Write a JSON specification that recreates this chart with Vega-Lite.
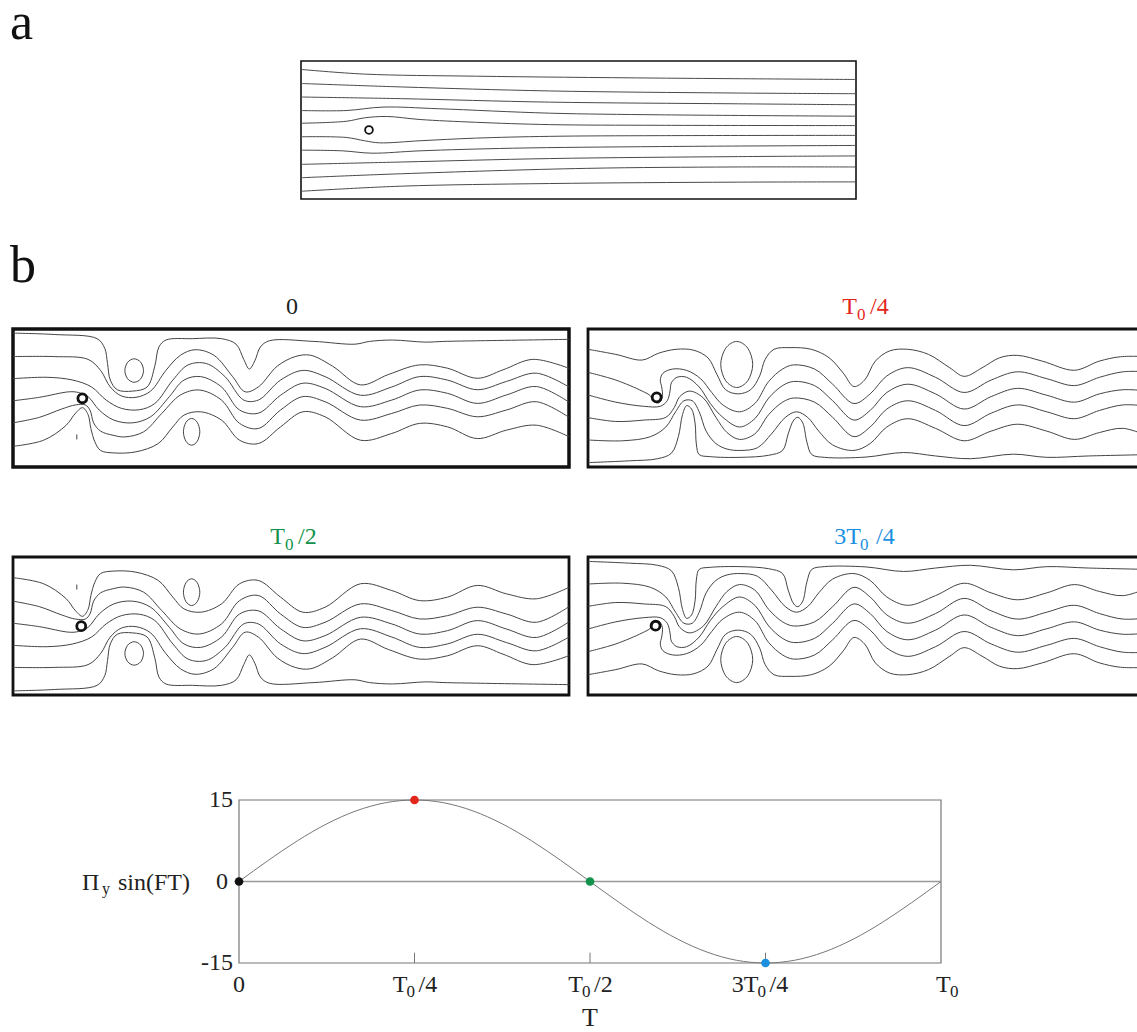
{
"$schema":"https://vega.github.io/schema/vega-lite/v6.json",
"width":1137,"height":1032,
"autosize":{"type":"none"},
"padding":0,
"background":"white",
"config":{"view":{"stroke":null},"axis":{"disable":true},"legend":{"disable":true},"text":{"font":"Liberation Serif","fontSize":24,"color":"#222"}},
"resolve":{"scale":{"x":"independent","y":"independent"}},
"datasets":{
"pa":[
{"l":1,"x":0,"y":9.39},{"l":1,"x":4.58,"y":9.05},{"l":1,"x":12.57,"y":8.9},{"l":1,"x":25.89,"y":8.76},{"l":1,"x":40,"y":8.66},
{"l":2,"x":0,"y":8.37},{"l":2,"x":7.24,"y":8.12},{"l":2,"x":17.9,"y":7.83},{"l":2,"x":31.21,"y":7.68},{"l":2,"x":40,"y":7.63},
{"l":3,"x":0,"y":7.39},{"l":3,"x":7.24,"y":7.27},{"l":3,"x":17.9,"y":7.02},{"l":3,"x":31.21,"y":6.9},{"l":3,"x":40,"y":6.83},
{"l":4,"x":0,"y":6.41},{"l":4,"x":3.25,"y":6.41},{"l":4,"x":5.91,"y":6.66},{"l":4,"x":9.91,"y":6.54},{"l":4,"x":17.9,"y":6.22},{"l":4,"x":25.89,"y":6.1},{"l":4,"x":40,"y":6.0},
{"l":5,"x":0,"y":5.49},{"l":5,"x":3.25,"y":5.63},{"l":5,"x":4.58,"y":5.88},{"l":5,"x":6.18,"y":5.98},{"l":5,"x":8.58,"y":5.76},{"l":5,"x":12.57,"y":5.56},{"l":5,"x":17.9,"y":5.39},{"l":5,"x":25.89,"y":5.34},{"l":5,"x":40,"y":5.32},
{"l":6,"x":0,"y":4.51},{"l":6,"x":3.25,"y":4.46},{"l":6,"x":4.58,"y":4.22},{"l":6,"x":5.65,"y":4.07},{"l":6,"x":8.58,"y":4.22},{"l":6,"x":12.57,"y":4.41},{"l":6,"x":17.9,"y":4.54},{"l":6,"x":25.89,"y":4.59},{"l":6,"x":40,"y":4.61},
{"l":7,"x":0,"y":3.54},{"l":7,"x":2.98,"y":3.49},{"l":7,"x":5.11,"y":3.32},{"l":7,"x":8.58,"y":3.49},{"l":7,"x":15.23,"y":3.68},{"l":7,"x":25.89,"y":3.8},{"l":7,"x":40,"y":3.88},
{"l":8,"x":0,"y":2.51},{"l":8,"x":7.24,"y":2.68},{"l":8,"x":17.9,"y":2.93},{"l":8,"x":31.21,"y":3.07},{"l":8,"x":40,"y":3.12},
{"l":9,"x":0,"y":1.54},{"l":9,"x":7.24,"y":1.83},{"l":9,"x":20.56,"y":2.22},{"l":9,"x":31.21,"y":2.32},{"l":9,"x":40,"y":2.32},
{"l":10,"x":0,"y":0.56},{"l":10,"x":7.24,"y":0.93},{"l":10,"x":17.9,"y":1.12},{"l":10,"x":31.21,"y":1.22},{"l":10,"x":40,"y":1.24}
],
"b0":[
{"l":1,"x":0,"y":9.7},{"l":1,"x":3.0,"y":9.6},{"l":1,"x":6.05,"y":9.3},{"l":1,"x":6.6,"y":8.6},{"l":1,"x":6.8,"y":7.5},{"l":1,"x":7.0,"y":6.3},{"l":1,"x":7.5,"y":5.6},{"l":1,"x":8.6,"y":5.5},{"l":1,"x":9.65,"y":5.8},{"l":1,"x":10.2,"y":7.3},{"l":1,"x":10.5,"y":8.7},{"l":1,"x":11.0,"y":9.2},{"l":1,"x":12.9,"y":9.3},{"l":1,"x":15.0,"y":9.3},{"l":1,"x":16.05,"y":8.9},{"l":1,"x":16.6,"y":7.8},{"l":1,"x":17.0,"y":7.1},{"l":1,"x":17.4,"y":7.7},{"l":1,"x":17.8,"y":8.7},{"l":1,"x":18.45,"y":9.15},{"l":1,"x":21.65,"y":9.1},{"l":1,"x":24.6,"y":8.9},{"l":1,"x":25.65,"y":9.1},{"l":1,"x":27.3,"y":9.2},{"l":1,"x":29.65,"y":9.05},{"l":1,"x":31.0,"y":9.1},{"l":1,"x":33.65,"y":9.15},{"l":1,"x":40,"y":9.25},
{"l":2,"x":0,"y":8.0},{"l":2,"x":3.0,"y":8.0},{"l":2,"x":5.4,"y":7.8},{"l":2,"x":6.3,"y":7.0},{"l":2,"x":7.0,"y":5.8},{"l":2,"x":7.8,"y":5.15},{"l":2,"x":8.85,"y":5.05},{"l":2,"x":9.9,"y":5.5},{"l":2,"x":11.0,"y":7.0},{"l":2,"x":12.05,"y":8.1},{"l":2,"x":13.1,"y":8.5},{"l":2,"x":14.45,"y":8.1},{"l":2,"x":15.8,"y":6.55},{"l":2,"x":16.7,"y":5.45},{"l":2,"x":17.65,"y":5.8},{"l":2,"x":19.0,"y":7.3},{"l":2,"x":20.3,"y":8.0},{"l":2,"x":21.4,"y":8.1},{"l":2,"x":23.0,"y":7.3},{"l":2,"x":25.0,"y":5.95},{"l":2,"x":27.0,"y":6.7},{"l":2,"x":29.25,"y":7.4},{"l":2,"x":31.25,"y":7.16},{"l":2,"x":33.4,"y":6.43},{"l":2,"x":35.25,"y":7.04},{"l":2,"x":37.4,"y":7.8},{"l":2,"x":40,"y":7.15},
{"l":3,"x":0,"y":6.4},{"l":3,"x":2.45,"y":6.5},{"l":3,"x":4.3,"y":6.3},{"l":3,"x":5.65,"y":5.8},{"l":3,"x":6.7,"y":4.85},{"l":3,"x":7.8,"y":4.25},{"l":3,"x":9.1,"y":4.15},{"l":3,"x":10.2,"y":4.6},{"l":3,"x":11.5,"y":6.3},{"l":3,"x":12.6,"y":7.4},{"l":3,"x":13.9,"y":7.5},{"l":3,"x":15.25,"y":6.55},{"l":3,"x":16.6,"y":4.85},{"l":3,"x":17.65,"y":4.85},{"l":3,"x":19.25,"y":6.3},{"l":3,"x":20.85,"y":7.0},{"l":3,"x":22.45,"y":6.55},{"l":3,"x":25.0,"y":5.2},{"l":3,"x":27.25,"y":5.8},{"l":3,"x":29.25,"y":6.55},{"l":3,"x":31.25,"y":6.3},{"l":3,"x":33.4,"y":5.6},{"l":3,"x":35.5,"y":6.2},{"l":3,"x":37.65,"y":6.8},{"l":3,"x":40,"y":5.8},
{"l":4,"x":0,"y":4.8},{"l":4,"x":1.9,"y":5.05},{"l":4,"x":4.05,"y":5.45},{"l":4,"x":4.7,"y":5.4},{"l":4,"x":5.4,"y":5.1},{"l":4,"x":6.2,"y":4.13},{"l":4,"x":7.25,"y":3.4},{"l":4,"x":8.6,"y":3.2},{"l":4,"x":9.9,"y":3.64},{"l":4,"x":11.25,"y":5.1},{"l":4,"x":12.3,"y":6.3},{"l":4,"x":13.5,"y":6.55},{"l":4,"x":15.0,"y":5.8},{"l":4,"x":16.3,"y":4.13},{"l":4,"x":17.65,"y":3.9},{"l":4,"x":19.25,"y":5.2},{"l":4,"x":20.85,"y":6.07},{"l":4,"x":22.45,"y":5.7},{"l":4,"x":25.0,"y":4.37},{"l":4,"x":27.25,"y":4.85},{"l":4,"x":29.25,"y":5.58},{"l":4,"x":31.25,"y":5.34},{"l":4,"x":33.4,"y":4.61},{"l":4,"x":35.5,"y":5.22},{"l":4,"x":37.65,"y":5.83},{"l":4,"x":40,"y":4.7},
{"l":5,"x":0,"y":3.2},{"l":5,"x":1.9,"y":3.6},{"l":5,"x":3.5,"y":4.2},{"l":5,"x":4.5,"y":4.5},{"l":5,"x":5.2,"y":4.5},{"l":5,"x":5.55,"y":4.1},{"l":5,"x":5.8,"y":3.2},{"l":5,"x":6.3,"y":2.6},{"l":5,"x":7.2,"y":2.3},{"l":5,"x":8.05,"y":2.18},{"l":5,"x":9.4,"y":2.55},{"l":5,"x":10.7,"y":3.88},{"l":5,"x":12.05,"y":5.22},{"l":5,"x":13.4,"y":5.58},{"l":5,"x":15.0,"y":4.85},{"l":5,"x":16.3,"y":3.16},{"l":5,"x":17.65,"y":2.79},{"l":5,"x":19.25,"y":4.13},{"l":5,"x":20.85,"y":5.1},{"l":5,"x":22.45,"y":4.73},{"l":5,"x":25.0,"y":3.4},{"l":5,"x":27.25,"y":3.88},{"l":5,"x":29.25,"y":4.49},{"l":5,"x":31.25,"y":4.25},{"l":5,"x":33.4,"y":3.64},{"l":5,"x":35.5,"y":4.13},{"l":5,"x":37.65,"y":4.73},{"l":5,"x":40,"y":3.6},
{"l":6,"x":0,"y":1.5},{"l":6,"x":2.2,"y":1.94},{"l":6,"x":3.8,"y":3.0},{"l":6,"x":4.5,"y":3.9},{"l":6,"x":5.0,"y":4.3},{"l":6,"x":5.4,"y":3.8},{"l":6,"x":5.6,"y":2.8},{"l":6,"x":5.9,"y":1.8},{"l":6,"x":6.3,"y":1.2},{"l":6,"x":7.25,"y":1.02},{"l":6,"x":8.85,"y":1.1},{"l":6,"x":10.45,"y":1.7},{"l":6,"x":11.5,"y":2.91},{"l":6,"x":12.3,"y":3.76},{"l":6,"x":13.5,"y":4.0},{"l":6,"x":15.0,"y":3.4},{"l":6,"x":16.3,"y":1.94},{"l":6,"x":17.65,"y":1.7},{"l":6,"x":19.25,"y":2.91},{"l":6,"x":20.85,"y":4.0},{"l":6,"x":22.45,"y":3.64},{"l":6,"x":25.0,"y":1.94},{"l":6,"x":27.25,"y":2.43},{"l":6,"x":29.25,"y":3.16},{"l":6,"x":31.25,"y":2.91},{"l":6,"x":33.4,"y":2.06},{"l":6,"x":35.5,"y":2.67},{"l":6,"x":37.65,"y":3.03},{"l":6,"x":40,"y":2.2},
{"l":7,"x":4.59,"y":2.36},{"l":7,"x":4.59,"y":2.0}
],
"b0e":[
{"e":1,"x":8.72,"y":7.84},{"e":1,"x":9.19,"y":7.59},{"e":1,"x":9.39,"y":6.99},{"e":1,"x":9.19,"y":6.39},{"e":1,"x":8.72,"y":6.14},{"e":1,"x":8.25,"y":6.39},{"e":1,"x":8.05,"y":6.99},{"e":1,"x":8.25,"y":7.59},
{"e":2,"x":12.85,"y":3.52},{"e":2,"x":13.26,"y":3.23},{"e":2,"x":13.44,"y":2.55},{"e":2,"x":13.26,"y":1.87},{"e":2,"x":12.85,"y":1.58},{"e":2,"x":12.44,"y":1.87},{"e":2,"x":12.26,"y":2.55},{"e":2,"x":12.44,"y":3.23}
],
"b1":[
{"l":1,"x":0,"y":8.53},{"l":1,"x":2.0,"y":8.16},{"l":1,"x":3.9,"y":7.75},{"l":1,"x":5.06,"y":8.24},{"l":1,"x":6.34,"y":8.53},{"l":1,"x":7.62,"y":8.46},{"l":1,"x":8.64,"y":7.9},{"l":1,"x":9.28,"y":6.7},{"l":1,"x":9.9,"y":5.6},{"l":1,"x":10.8,"y":5.3},{"l":1,"x":11.7,"y":5.6},{"l":1,"x":12.35,"y":6.6},{"l":1,"x":12.74,"y":7.79},{"l":1,"x":13.38,"y":8.53},{"l":1,"x":14.53,"y":8.65},{"l":1,"x":16.06,"y":8.53},{"l":1,"x":17.34,"y":7.92},{"l":1,"x":18.36,"y":6.81},{"l":1,"x":19.13,"y":5.83},{"l":1,"x":19.9,"y":6.3},{"l":1,"x":20.67,"y":7.67},{"l":1,"x":21.69,"y":8.41},{"l":1,"x":23.0,"y":8.53},{"l":1,"x":24.5,"y":8.16},{"l":1,"x":26.04,"y":7.18},{"l":1,"x":27.06,"y":6.57},{"l":1,"x":28.34,"y":7.18},{"l":1,"x":29.62,"y":7.92},{"l":1,"x":30.9,"y":8.09},{"l":1,"x":32.69,"y":7.67},{"l":1,"x":34.99,"y":7.01},{"l":1,"x":36.78,"y":7.67},{"l":1,"x":38.31,"y":7.99},{"l":1,"x":40.4,"y":8.0},
{"l":2,"x":0,"y":6.86},{"l":2,"x":2.0,"y":6.3},{"l":2,"x":3.9,"y":5.5},{"l":2,"x":4.5,"y":5.15},{"l":2,"x":4.75,"y":4.75},{"l":2,"x":5.1,"y":4.65},{"l":2,"x":5.35,"y":5.1},{"l":2,"x":5.3,"y":5.8},{"l":2,"x":5.2,"y":6.3},{"l":2,"x":5.4,"y":6.8},{"l":2,"x":6.1,"y":7.1},{"l":2,"x":7.1,"y":7.0},{"l":2,"x":8.1,"y":6.4},{"l":2,"x":8.9,"y":5.4},{"l":2,"x":9.7,"y":4.5},{"l":2,"x":10.9,"y":4.0},{"l":2,"x":12.0,"y":4.6},{"l":2,"x":13.0,"y":6.2},{"l":2,"x":14.0,"y":7.1},{"l":2,"x":14.8,"y":7.4},{"l":2,"x":16.3,"y":7.1},{"l":2,"x":17.6,"y":6.0},{"l":2,"x":19.13,"y":4.6},{"l":2,"x":20.3,"y":5.3},{"l":2,"x":21.5,"y":6.6},{"l":2,"x":23.0,"y":7.2},{"l":2,"x":25.0,"y":6.5},{"l":2,"x":27.06,"y":5.4},{"l":2,"x":29.0,"y":6.3},{"l":2,"x":30.9,"y":6.9},{"l":2,"x":33.0,"y":6.4},{"l":2,"x":35.0,"y":5.9},{"l":2,"x":36.8,"y":6.5},{"l":2,"x":38.5,"y":6.9},{"l":2,"x":40.4,"y":6.9},
{"l":3,"x":0,"y":5.22},{"l":3,"x":2.0,"y":4.7},{"l":3,"x":4.0,"y":4.4},{"l":3,"x":5.2,"y":4.4},{"l":3,"x":5.7,"y":4.8},{"l":3,"x":5.9,"y":5.5},{"l":3,"x":6.0,"y":6.1},{"l":3,"x":6.4,"y":6.5},{"l":3,"x":7.1,"y":6.5},{"l":3,"x":8.0,"y":5.8},{"l":3,"x":8.8,"y":4.6},{"l":3,"x":9.7,"y":3.6},{"l":3,"x":10.9,"y":2.9},{"l":3,"x":12.0,"y":3.5},{"l":3,"x":13.0,"y":5.0},{"l":3,"x":14.0,"y":5.9},{"l":3,"x":14.8,"y":6.2},{"l":3,"x":16.3,"y":5.9},{"l":3,"x":17.6,"y":4.8},{"l":3,"x":19.13,"y":3.4},{"l":3,"x":20.3,"y":4.1},{"l":3,"x":21.5,"y":5.4},{"l":3,"x":23.0,"y":6.0},{"l":3,"x":25.0,"y":5.3},{"l":3,"x":27.06,"y":4.2},{"l":3,"x":29.0,"y":5.1},{"l":3,"x":30.9,"y":5.7},{"l":3,"x":33.0,"y":5.2},{"l":3,"x":35.0,"y":4.7},{"l":3,"x":36.8,"y":5.3},{"l":3,"x":38.5,"y":5.6},{"l":3,"x":40.4,"y":5.5},
{"l":4,"x":0,"y":3.58},{"l":4,"x":2.0,"y":3.3},{"l":4,"x":4.0,"y":3.4},{"l":4,"x":5.6,"y":3.6},{"l":4,"x":6.2,"y":4.3},{"l":4,"x":6.6,"y":5.1},{"l":4,"x":7.3,"y":5.5},{"l":4,"x":8.3,"y":5.0},{"l":4,"x":9.2,"y":3.6},{"l":4,"x":10.0,"y":2.5},{"l":4,"x":10.9,"y":2.0},{"l":4,"x":12.0,"y":2.4},{"l":4,"x":13.0,"y":3.8},{"l":4,"x":14.0,"y":4.7},{"l":4,"x":14.8,"y":5.0},{"l":4,"x":16.3,"y":4.7},{"l":4,"x":17.6,"y":3.6},{"l":4,"x":19.13,"y":2.2},{"l":4,"x":20.3,"y":2.9},{"l":4,"x":21.5,"y":4.2},{"l":4,"x":23.0,"y":4.8},{"l":4,"x":25.0,"y":4.1},{"l":4,"x":27.06,"y":3.0},{"l":4,"x":29.0,"y":3.9},{"l":4,"x":30.9,"y":4.5},{"l":4,"x":33.0,"y":4.0},{"l":4,"x":35.0,"y":3.5},{"l":4,"x":36.8,"y":4.1},{"l":4,"x":38.5,"y":4.5},{"l":4,"x":40.4,"y":4.4},
{"l":5,"x":0,"y":1.96},{"l":5,"x":2.5,"y":1.9},{"l":5,"x":4.5,"y":2.2},{"l":5,"x":5.6,"y":2.9},{"l":5,"x":6.3,"y":4.0},{"l":5,"x":6.9,"y":4.8},{"l":5,"x":7.5,"y":4.8},{"l":5,"x":8.0,"y":4.0},{"l":5,"x":8.5,"y":2.6},{"l":5,"x":9.2,"y":1.7},{"l":5,"x":10.0,"y":1.3},{"l":5,"x":11.0,"y":1.2},{"l":5,"x":12.2,"y":1.4},{"l":5,"x":13.2,"y":2.4},{"l":5,"x":14.2,"y":3.6},{"l":5,"x":15.0,"y":4.0},{"l":5,"x":15.8,"y":3.6},{"l":5,"x":16.6,"y":2.6},{"l":5,"x":17.6,"y":1.6},{"l":5,"x":19.13,"y":1.2},{"l":5,"x":20.3,"y":1.7},{"l":5,"x":21.5,"y":2.9},{"l":5,"x":23.0,"y":3.5},{"l":5,"x":25.0,"y":2.8},{"l":5,"x":27.06,"y":1.9},{"l":5,"x":29.0,"y":2.6},{"l":5,"x":30.9,"y":3.1},{"l":5,"x":33.0,"y":2.6},{"l":5,"x":35.0,"y":2.0},{"l":5,"x":36.8,"y":2.5},{"l":5,"x":38.5,"y":2.8},{"l":5,"x":40.4,"y":2.2},
{"l":6,"x":0,"y":0.32},{"l":6,"x":3.0,"y":0.45},{"l":6,"x":5.0,"y":0.6},{"l":6,"x":6.0,"y":1.0},{"l":6,"x":6.5,"y":2.2},{"l":6,"x":6.8,"y":3.8},{"l":6,"x":7.1,"y":4.45},{"l":6,"x":7.45,"y":4.2},{"l":6,"x":7.7,"y":3.2},{"l":6,"x":7.8,"y":1.6},{"l":6,"x":8.0,"y":0.9},{"l":6,"x":8.8,"y":0.75},{"l":6,"x":11.0,"y":0.7},{"l":6,"x":13.0,"y":0.85},{"l":6,"x":14.0,"y":1.2},{"l":6,"x":14.4,"y":2.4},{"l":6,"x":14.8,"y":3.4},{"l":6,"x":15.1,"y":3.6},{"l":6,"x":15.45,"y":3.2},{"l":6,"x":15.75,"y":1.8},{"l":6,"x":16.1,"y":0.9},{"l":6,"x":17.0,"y":0.7},{"l":6,"x":20.0,"y":0.72},{"l":6,"x":22.7,"y":1.05},{"l":6,"x":25.0,"y":0.8},{"l":6,"x":27.5,"y":0.6},{"l":6,"x":30.6,"y":0.93},{"l":6,"x":33.0,"y":0.7},{"l":6,"x":36.0,"y":0.8},{"l":6,"x":40.4,"y":0.9}
],
"b1e":[
{"e":1,"x":10.7,"y":9.1},{"e":1,"x":11.5,"y":8.6},{"e":1,"x":11.85,"y":7.43},{"e":1,"x":11.5,"y":6.26},{"e":1,"x":10.7,"y":5.76},{"e":1,"x":9.9,"y":6.26},{"e":1,"x":9.55,"y":7.43},{"e":1,"x":9.9,"y":8.6}
],
"sine":[
{"t":0,"v":0},{"t":0.0417,"v":3.88},{"t":0.0833,"v":7.5},{"t":0.125,"v":10.61},{"t":0.1667,"v":12.99},{"t":0.2083,"v":14.49},{"t":0.25,"v":15},{"t":0.2917,"v":14.49},{"t":0.3333,"v":12.99},{"t":0.375,"v":10.61},{"t":0.4167,"v":7.5},{"t":0.4583,"v":3.88},{"t":0.5,"v":0},{"t":0.5417,"v":-3.88},{"t":0.5833,"v":-7.5},{"t":0.625,"v":-10.61},{"t":0.6667,"v":-12.99},{"t":0.7083,"v":-14.49},{"t":0.75,"v":-15},{"t":0.7917,"v":-14.49},{"t":0.8333,"v":-12.99},{"t":0.875,"v":-10.61},{"t":0.9167,"v":-7.5},{"t":0.9583,"v":-3.88},{"t":1,"v":0}
],
"pts":[{"t":0,"v":0,"k":"0"},{"t":0.25,"v":15,"k":"T0/4"},{"t":0.5,"v":0,"k":"T0/2"},{"t":0.75,"v":-15,"k":"3T0/4"}],
"xl":[{"t":0.25,"p":"T","s":"/4"},{"t":0.5,"p":"T","s":"/2"},{"t":0.75,"p":"3T","s":"/4"}],
"yl":[{"v":15,"s":"15"},{"v":-15,"s":"-15"}]
},
"layer":[
{"layer":[
 {"data":{"values":[{}]},"mark":{"type":"rect","filled":false,"color":"#111","strokeWidth":1.6},
  "encoding":{"x":{"datum":0,"type":"quantitative","scale":{"domain":[-21.694,60.252],"nice":false,"zero":false}},"x2":{"datum":40},"y":{"datum":0,"type":"quantitative","scale":{"domain":[-60.362,14.42],"nice":false,"zero":false}},"y2":{"datum":10}}},
 {"data":{"name":"pa"},"mark":{"type":"line","interpolate":"catmull-rom","color":"#4a4a4a","strokeWidth":1},
  "encoding":{"x":{"field":"x","type":"quantitative","scale":{"domain":[-21.694,60.252],"nice":false,"zero":false}},"y":{"field":"y","type":"quantitative","scale":{"domain":[-60.362,14.42],"nice":false,"zero":false}},"detail":{"field":"l","type":"nominal"},"order":{"value":null}}},
 {"data":{"values":[{}]},"mark":{"type":"point","shape":"circle","filled":false,"color":"#111","size":60,"strokeWidth":1.8,"opacity":1},
  "encoding":{"x":{"datum":4.9,"type":"quantitative","scale":{"domain":[-21.694,60.252],"nice":false,"zero":false}},"y":{"datum":5.0,"type":"quantitative","scale":{"domain":[-60.362,14.42],"nice":false,"zero":false}}}},
 {"data":{"values":[{}]},"mark":{"type":"text","text":"a","align":"left","baseline":"alphabetic","fontSize":52,"color":"#111"},
  "encoding":{"x":{"datum":-20.97,"type":"quantitative","scale":{"domain":[-21.694,60.252],"nice":false,"zero":false}},"y":{"datum":11.6,"type":"quantitative","scale":{"domain":[-60.362,14.42],"nice":false,"zero":false}}}},
 {"data":{"values":[{}]},"mark":{"type":"text","text":"b","align":"left","baseline":"alphabetic","fontSize":52,"color":"#111"},
  "encoding":{"x":{"datum":-20.97,"type":"quantitative","scale":{"domain":[-21.694,60.252],"nice":false,"zero":false}},"y":{"datum":-6.01,"type":"quantitative","scale":{"domain":[-60.362,14.42],"nice":false,"zero":false}}}}
]},
{"layer":[
 {"data":{"values":[{}]},"mark":{"type":"rect","filled":false,"color":"#111","strokeWidth":3.5},
  "encoding":{"x":{"datum":0,"type":"quantitative","scale":{"domain":[-0.935,80.863],"nice":false,"zero":false}},"x2":{"datum":40},"y":{"datum":0,"type":"quantitative","scale":{"domain":[-40.942,33.841],"nice":false,"zero":false}},"y2":{"datum":10}}},
 {"data":{"name":"b0"},"mark":{"type":"line","interpolate":"catmull-rom","color":"#444","strokeWidth":1},
  "encoding":{"x":{"field":"x","type":"quantitative","scale":{"domain":[-0.935,80.863],"nice":false,"zero":false}},"y":{"field":"y","type":"quantitative","scale":{"domain":[-40.942,33.841],"nice":false,"zero":false}},"detail":{"field":"l","type":"nominal"},"order":{"value":null}}},
 {"data":{"name":"b0e"},"mark":{"type":"line","interpolate":"cardinal-closed","color":"#444","strokeWidth":1},
  "encoding":{"x":{"field":"x","type":"quantitative","scale":{"domain":[-0.935,80.863],"nice":false,"zero":false}},"y":{"field":"y","type":"quantitative","scale":{"domain":[-40.942,33.841],"nice":false,"zero":false}},"detail":{"field":"e","type":"nominal"},"order":{"value":null}}},
 {"data":{"values":[{}]},"mark":{"type":"point","shape":"circle","filled":false,"color":"#111","size":80,"strokeWidth":2.8,"opacity":1},
  "encoding":{"x":{"datum":4.99,"type":"quantitative","scale":{"domain":[-0.935,80.863],"nice":false,"zero":false}},"y":{"datum":4.98,"type":"quantitative","scale":{"domain":[-40.942,33.841],"nice":false,"zero":false}}}},
 {"data":{"values":[{}]},"mark":{"type":"text","text":"0","color":"#222"},
  "encoding":{"x":{"datum":20.07,"type":"quantitative","scale":{"domain":[-0.935,80.863],"nice":false,"zero":false}},"y":{"datum":11.59,"type":"quantitative","scale":{"domain":[-40.942,33.841],"nice":false,"zero":false}}}}
]},
{"layer":[
 {"data":{"values":[{}]},"mark":{"type":"rect","filled":false,"color":"#111","strokeWidth":2.8},
  "encoding":{"x":{"datum":0,"type":"quantitative","scale":{"domain":[-42.302,39.496],"nice":false,"zero":false}},"x2":{"datum":40},"y":{"datum":0,"type":"quantitative","scale":{"domain":[-40.942,33.841],"nice":false,"zero":false}},"y2":{"datum":10}}},
 {"data":{"name":"b1"},"mark":{"type":"line","interpolate":"catmull-rom","color":"#444","strokeWidth":1},
  "encoding":{"x":{"field":"x","type":"quantitative","scale":{"domain":[-42.302,39.496],"nice":false,"zero":false}},"y":{"field":"y","type":"quantitative","scale":{"domain":[-40.942,33.841],"nice":false,"zero":false}},"detail":{"field":"l","type":"nominal"},"order":{"value":null}}},
 {"data":{"name":"b1e"},"mark":{"type":"line","interpolate":"cardinal-closed","color":"#444","strokeWidth":1},
  "encoding":{"x":{"field":"x","type":"quantitative","scale":{"domain":[-42.302,39.496],"nice":false,"zero":false}},"y":{"field":"y","type":"quantitative","scale":{"domain":[-40.942,33.841],"nice":false,"zero":false}},"detail":{"field":"e","type":"nominal"},"order":{"value":null}}},
 {"data":{"values":[{}]},"mark":{"type":"point","shape":"circle","filled":false,"color":"#111","size":80,"strokeWidth":2.8,"opacity":1},
  "encoding":{"x":{"datum":4.94,"type":"quantitative","scale":{"domain":[-42.302,39.496],"nice":false,"zero":false}},"y":{"datum":5.05,"type":"quantitative","scale":{"domain":[-40.942,33.841],"nice":false,"zero":false}}}},
 {"data":{"values":[{}]},"mark":{"type":"text","text":"T","align":"right","dx":-9,"color":"#e3261c"},
  "encoding":{"x":{"datum":20.0,"type":"quantitative","scale":{"domain":[-42.302,39.496],"nice":false,"zero":false}},"y":{"datum":11.59,"type":"quantitative","scale":{"domain":[-40.942,33.841],"nice":false,"zero":false}}}},
 {"data":{"values":[{}]},"mark":{"type":"text","text":"0","align":"left","dx":-9,"dy":8,"fontSize":17,"color":"#e3261c"},
  "encoding":{"x":{"datum":20.0,"type":"quantitative","scale":{"domain":[-42.302,39.496],"nice":false,"zero":false}},"y":{"datum":11.59,"type":"quantitative","scale":{"domain":[-40.942,33.841],"nice":false,"zero":false}}}},
 {"data":{"values":[{}]},"mark":{"type":"text","text":"/4","align":"left","dx":4,"color":"#e3261c"},
  "encoding":{"x":{"datum":20.0,"type":"quantitative","scale":{"domain":[-42.302,39.496],"nice":false,"zero":false}},"y":{"datum":11.59,"type":"quantitative","scale":{"domain":[-40.942,33.841],"nice":false,"zero":false}}}}
]},
{"layer":[
 {"data":{"values":[{}]},"mark":{"type":"rect","filled":false,"color":"#111","strokeWidth":2.8},
  "encoding":{"x":{"datum":0,"type":"quantitative","scale":{"domain":[-0.935,80.863],"nice":false,"zero":false}},"x2":{"datum":40},"y":{"datum":0,"type":"quantitative","scale":{"domain":[-40.362,34.421],"nice":false,"zero":false,"reverse":true}},"y2":{"datum":10}}},
 {"data":{"name":"b0"},"mark":{"type":"line","interpolate":"catmull-rom","color":"#444","strokeWidth":1},
  "encoding":{"x":{"field":"x","type":"quantitative","scale":{"domain":[-0.935,80.863],"nice":false,"zero":false}},"y":{"field":"y","type":"quantitative","scale":{"domain":[-40.362,34.421],"nice":false,"zero":false,"reverse":true}},"detail":{"field":"l","type":"nominal"},"order":{"value":null}}},
 {"data":{"name":"b0e"},"mark":{"type":"line","interpolate":"cardinal-closed","color":"#444","strokeWidth":1},
  "encoding":{"x":{"field":"x","type":"quantitative","scale":{"domain":[-0.935,80.863],"nice":false,"zero":false}},"y":{"field":"y","type":"quantitative","scale":{"domain":[-40.362,34.421],"nice":false,"zero":false,"reverse":true}},"detail":{"field":"e","type":"nominal"},"order":{"value":null}}},
 {"data":{"values":[{}]},"mark":{"type":"point","shape":"circle","filled":false,"color":"#111","size":80,"strokeWidth":2.8,"opacity":1},
  "encoding":{"x":{"datum":4.91,"type":"quantitative","scale":{"domain":[-0.935,80.863],"nice":false,"zero":false}},"y":{"datum":5.01,"type":"quantitative","scale":{"domain":[-40.362,34.421],"nice":false,"zero":false,"reverse":true}}}},
 {"data":{"values":[{}]},"mark":{"type":"text","text":"T","align":"right","dx":-7,"color":"#12924a"},
  "encoding":{"x":{"datum":20.07,"type":"quantitative","scale":{"domain":[-0.935,80.863],"nice":false,"zero":false}},"y":{"datum":-1.45,"type":"quantitative","scale":{"domain":[-40.362,34.421],"nice":false,"zero":false,"reverse":true}}}},
 {"data":{"values":[{}]},"mark":{"type":"text","text":"0","align":"left","dx":-7,"dy":8,"fontSize":17,"color":"#12924a"},
  "encoding":{"x":{"datum":20.07,"type":"quantitative","scale":{"domain":[-0.935,80.863],"nice":false,"zero":false}},"y":{"datum":-1.45,"type":"quantitative","scale":{"domain":[-40.362,34.421],"nice":false,"zero":false,"reverse":true}}}},
 {"data":{"values":[{}]},"mark":{"type":"text","text":"/2","align":"left","dx":6,"color":"#12924a"},
  "encoding":{"x":{"datum":20.07,"type":"quantitative","scale":{"domain":[-0.935,80.863],"nice":false,"zero":false}},"y":{"datum":-1.45,"type":"quantitative","scale":{"domain":[-40.362,34.421],"nice":false,"zero":false,"reverse":true}}}}
]},
{"layer":[
 {"data":{"values":[{}]},"mark":{"type":"rect","filled":false,"color":"#111","strokeWidth":2.8},
  "encoding":{"x":{"datum":0,"type":"quantitative","scale":{"domain":[-42.302,39.496],"nice":false,"zero":false}},"x2":{"datum":40},"y":{"datum":0,"type":"quantitative","scale":{"domain":[-40.362,34.421],"nice":false,"zero":false,"reverse":true}},"y2":{"datum":10}}},
 {"data":{"name":"b1"},"mark":{"type":"line","interpolate":"catmull-rom","color":"#444","strokeWidth":1},
  "encoding":{"x":{"field":"x","type":"quantitative","scale":{"domain":[-42.302,39.496],"nice":false,"zero":false}},"y":{"field":"y","type":"quantitative","scale":{"domain":[-40.362,34.421],"nice":false,"zero":false,"reverse":true}},"detail":{"field":"l","type":"nominal"},"order":{"value":null}}},
 {"data":{"name":"b1e"},"mark":{"type":"line","interpolate":"cardinal-closed","color":"#444","strokeWidth":1},
  "encoding":{"x":{"field":"x","type":"quantitative","scale":{"domain":[-42.302,39.496],"nice":false,"zero":false}},"y":{"field":"y","type":"quantitative","scale":{"domain":[-40.362,34.421],"nice":false,"zero":false,"reverse":true}},"detail":{"field":"e","type":"nominal"},"order":{"value":null}}},
 {"data":{"values":[{}]},"mark":{"type":"point","shape":"circle","filled":false,"color":"#111","size":80,"strokeWidth":2.8,"opacity":1},
  "encoding":{"x":{"datum":4.86,"type":"quantitative","scale":{"domain":[-42.302,39.496],"nice":false,"zero":false}},"y":{"datum":4.98,"type":"quantitative","scale":{"domain":[-40.362,34.421],"nice":false,"zero":false,"reverse":true}}}},
 {"data":{"values":[{}]},"mark":{"type":"text","text":"3T","align":"right","dx":-5,"color":"#1a8fdf"},
  "encoding":{"x":{"datum":20.0,"type":"quantitative","scale":{"domain":[-42.302,39.496],"nice":false,"zero":false}},"y":{"datum":-1.45,"type":"quantitative","scale":{"domain":[-40.362,34.421],"nice":false,"zero":false,"reverse":true}}}},
 {"data":{"values":[{}]},"mark":{"type":"text","text":"0","align":"left","dx":-6,"dy":8,"fontSize":17,"color":"#1a8fdf"},
  "encoding":{"x":{"datum":20.0,"type":"quantitative","scale":{"domain":[-42.302,39.496],"nice":false,"zero":false}},"y":{"datum":-1.45,"type":"quantitative","scale":{"domain":[-40.362,34.421],"nice":false,"zero":false,"reverse":true}}}},
 {"data":{"values":[{}]},"mark":{"type":"text","text":"/4","align":"left","dx":10,"color":"#1a8fdf"},
  "encoding":{"x":{"datum":20.0,"type":"quantitative","scale":{"domain":[-42.302,39.496],"nice":false,"zero":false}},"y":{"datum":-1.45,"type":"quantitative","scale":{"domain":[-40.362,34.421],"nice":false,"zero":false,"reverse":true}}}}
]},
{"layer":[
 {"data":{"values":[{}]},"mark":{"type":"rect","filled":false,"color":"#777","strokeWidth":1.2},
  "encoding":{"x":{"datum":0,"type":"quantitative","scale":{"domain":[-0.34046,1.2792],"nice":false,"zero":false}},"x2":{"datum":1},"y":{"datum":-15,"type":"quantitative","scale":{"domain":[-27.699,162.239],"nice":false,"zero":false}},"y2":{"datum":15}}},
 {"data":{"values":[{}]},"mark":{"type":"rule","color":"#999","strokeWidth":1.5},
  "encoding":{"x":{"datum":0,"type":"quantitative","scale":{"domain":[-0.34046,1.2792],"nice":false,"zero":false}},"x2":{"datum":1},"y":{"datum":0,"type":"quantitative","scale":{"domain":[-27.699,162.239],"nice":false,"zero":false}}}},
 {"data":{"values":[{"t":0.25},{"t":0.5},{"t":0.75}]},"mark":{"type":"rule","color":"#777","strokeWidth":1},
  "encoding":{"x":{"field":"t","type":"quantitative","scale":{"domain":[-0.34046,1.2792],"nice":false,"zero":false}},"y":{"datum":-15,"type":"quantitative","scale":{"domain":[-27.699,162.239],"nice":false,"zero":false}},"y2":{"datum":-13.1}}},
 {"data":{"name":"sine"},"mark":{"type":"line","interpolate":"monotone","color":"#777","strokeWidth":1},
  "encoding":{"x":{"field":"t","type":"quantitative","scale":{"domain":[-0.34046,1.2792],"nice":false,"zero":false}},"y":{"field":"v","type":"quantitative","scale":{"domain":[-27.699,162.239],"nice":false,"zero":false}}}},
 {"data":{"name":"pts"},"mark":{"type":"point","shape":"circle","filled":true,"size":75,"opacity":1},
  "encoding":{"x":{"field":"t","type":"quantitative","scale":{"domain":[-0.34046,1.2792],"nice":false,"zero":false}},"y":{"field":"v","type":"quantitative","scale":{"domain":[-27.699,162.239],"nice":false,"zero":false}},"color":{"field":"k","type":"nominal","scale":{"domain":["0","T0/4","T0/2","3T0/4"],"range":["#111111","#e3261c","#12924a","#1a8fdf"]},"legend":null}}},
 {"data":{"name":"yl"},"mark":{"type":"text","align":"right","color":"#222"},
  "encoding":{"x":{"datum":-0.0086,"type":"quantitative","scale":{"domain":[-0.34046,1.2792],"nice":false,"zero":false}},"y":{"field":"v","type":"quantitative","scale":{"domain":[-27.699,162.239],"nice":false,"zero":false}},"text":{"field":"s"}}},
 {"data":{"values":[{}]},"mark":{"type":"text","text":"0","align":"right","color":"#222"},
  "encoding":{"x":{"datum":-0.0157,"type":"quantitative","scale":{"domain":[-0.34046,1.2792],"nice":false,"zero":false}},"y":{"datum":0,"type":"quantitative","scale":{"domain":[-27.699,162.239],"nice":false,"zero":false}}}},
 {"data":{"values":[{}]},"mark":{"type":"text","text":"0","color":"#222"},
  "encoding":{"x":{"datum":0,"type":"quantitative","scale":{"domain":[-0.34046,1.2792],"nice":false,"zero":false}},"y":{"datum":-19.05,"type":"quantitative","scale":{"domain":[-27.699,162.239],"nice":false,"zero":false}}}},
 {"data":{"name":"xl"},"mark":{"type":"text","align":"right","dx":-7,"color":"#222"},
  "encoding":{"x":{"field":"t","type":"quantitative","scale":{"domain":[-0.34046,1.2792],"nice":false,"zero":false}},"y":{"datum":-19.05,"type":"quantitative","scale":{"domain":[-27.699,162.239],"nice":false,"zero":false}},"text":{"field":"p"}}},
 {"data":{"name":"xl"},"mark":{"type":"text","text":"0","align":"left","dx":-8,"dy":7,"fontSize":17,"color":"#222"},
  "encoding":{"x":{"field":"t","type":"quantitative","scale":{"domain":[-0.34046,1.2792],"nice":false,"zero":false}},"y":{"datum":-19.05,"type":"quantitative","scale":{"domain":[-27.699,162.239],"nice":false,"zero":false}}}},
 {"data":{"name":"xl"},"mark":{"type":"text","align":"left","dx":4,"color":"#222"},
  "encoding":{"x":{"field":"t","type":"quantitative","scale":{"domain":[-0.34046,1.2792],"nice":false,"zero":false}},"y":{"datum":-19.05,"type":"quantitative","scale":{"domain":[-27.699,162.239],"nice":false,"zero":false}},"text":{"field":"s"}}},
 {"data":{"values":[{}]},"mark":{"type":"text","text":"T","align":"left","dx":-5,"color":"#222"},
  "encoding":{"x":{"datum":1,"type":"quantitative","scale":{"domain":[-0.34046,1.2792],"nice":false,"zero":false}},"y":{"datum":-19.05,"type":"quantitative","scale":{"domain":[-27.699,162.239],"nice":false,"zero":false}}}},
 {"data":{"values":[{}]},"mark":{"type":"text","text":"0","align":"left","dx":9,"dy":7,"fontSize":17,"color":"#222"},
  "encoding":{"x":{"datum":1,"type":"quantitative","scale":{"domain":[-0.34046,1.2792],"nice":false,"zero":false}},"y":{"datum":-19.05,"type":"quantitative","scale":{"domain":[-27.699,162.239],"nice":false,"zero":false}}}},
 {"data":{"values":[{}]},"mark":{"type":"text","text":"T","fontSize":26,"color":"#222"},
  "encoding":{"x":{"datum":0.5,"type":"quantitative","scale":{"domain":[-0.34046,1.2792],"nice":false,"zero":false}},"y":{"datum":-25.2,"type":"quantitative","scale":{"domain":[-27.699,162.239],"nice":false,"zero":false}}}},
 {"data":{"values":[{}]},"mark":{"type":"text","text":"Π","align":"left","color":"#222"},
  "encoding":{"x":{"datum":-0.2237,"type":"quantitative","scale":{"domain":[-0.34046,1.2792],"nice":false,"zero":false}},"y":{"datum":-0.3,"type":"quantitative","scale":{"domain":[-27.699,162.239],"nice":false,"zero":false}}}},
 {"data":{"values":[{}]},"mark":{"type":"text","text":"y","align":"left","dx":20,"dy":6,"fontSize":16,"color":"#222"},
  "encoding":{"x":{"datum":-0.2237,"type":"quantitative","scale":{"domain":[-0.34046,1.2792],"nice":false,"zero":false}},"y":{"datum":-0.3,"type":"quantitative","scale":{"domain":[-27.699,162.239],"nice":false,"zero":false}}}},
 {"data":{"values":[{}]},"mark":{"type":"text","text":"sin(FT)","align":"left","color":"#222"},
  "encoding":{"x":{"datum":-0.1724,"type":"quantitative","scale":{"domain":[-0.34046,1.2792],"nice":false,"zero":false}},"y":{"datum":-0.3,"type":"quantitative","scale":{"domain":[-27.699,162.239],"nice":false,"zero":false}}}}
]}
]
}
